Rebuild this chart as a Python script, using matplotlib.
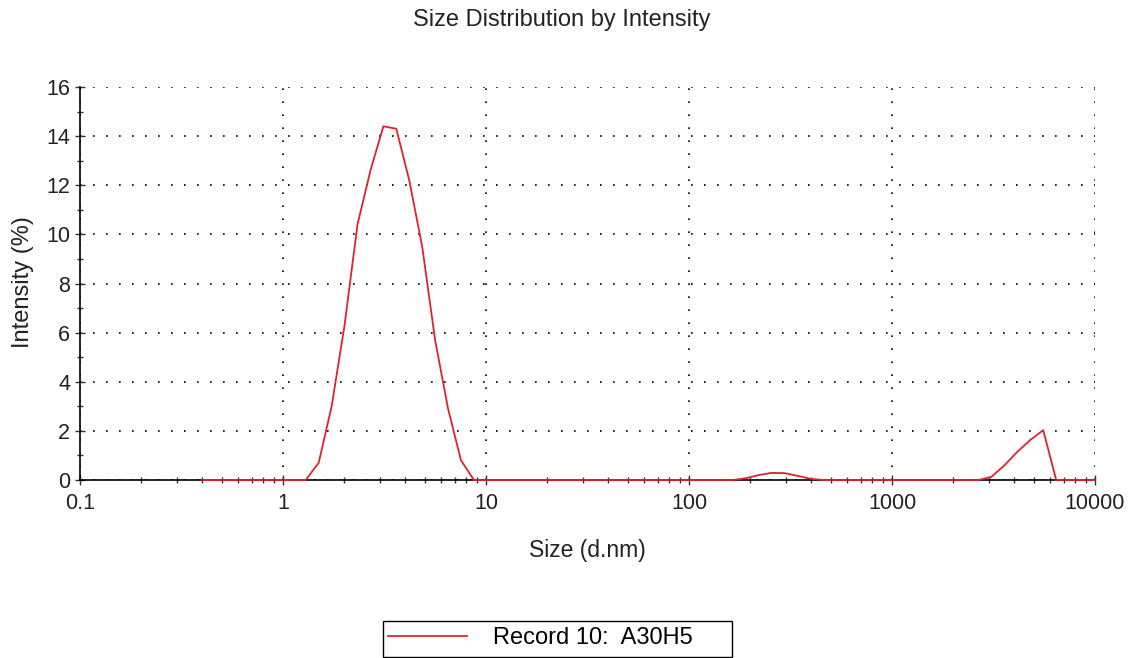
import numpy as np
import matplotlib.pyplot as plt
from matplotlib.patches import Rectangle
from matplotlib.ticker import FixedLocator, NullFormatter

plt.rcParams['font.family'] = ['Liberation Sans', 'DejaVu Sans']

# size bins (d.nm) and intensity (%)
size_nm = [0.4000, 0.4632, 0.5365, 0.6213, 0.7195, 0.8332, 0.9649, 1.117, 1.294, 1.499,
           1.736, 2.010, 2.328, 2.696, 3.122, 3.615, 4.187, 4.849, 5.615, 6.503,
           7.531, 8.721, 10.10, 11.70, 13.54, 15.69, 18.17, 21.04, 24.36, 28.21,
           32.67, 37.84, 43.82, 50.75, 58.77, 68.06, 78.82, 91.28, 105.7, 122.4,
           141.8, 164.2, 190.1, 220.2, 255.0, 295.3, 342.0, 396.1, 458.7, 531.2,
           615.1, 712.4, 825.0, 955.4, 1106, 1281, 1484, 1718, 1990, 2305,
           2669, 3091, 3580, 4145, 4801, 5560, 6439, 7456, 8635, 10000]
intensity = [0, 0, 0, 0, 0, 0, 0, 0, 0, 0.7,
             3.0, 6.3, 10.4, 12.6, 14.4, 14.3, 12.2, 9.5, 5.7, 2.9,
             0.8, 0, 0, 0, 0, 0, 0, 0, 0, 0,
             0, 0, 0, 0, 0, 0, 0, 0, 0, 0,
             0, 0, 0.07, 0.2, 0.29, 0.28, 0.17, 0.05, 0, 0,
             0, 0, 0, 0, 0, 0, 0, 0, 0, 0,
             0, 0.13, 0.6, 1.15, 1.63, 2.03, 0, 0, 0, 0]

x_ticks = [0.1, 1, 10, 100, 1000, 10000]
x_labels = ['0.1', '1', '10', '100', '1000', '10000']
y_ticks = [0, 2, 4, 6, 8, 10, 12, 14, 16]

W, H = 1128, 658
fig = plt.figure(figsize=(W / 100, H / 100), dpi=100)
ax = fig.add_axes([80/W, 1-480/H, (1095-80)/W, (480-87)/H])

ax.plot(size_nm, intensity, color='#e0232b', linewidth=1.3, label='Record 10:  A30H5', zorder=5, clip_on=False)

ax.set_xscale('log')
ax.set_xlim(0.1, 10000)
ax.set_ylim(0, 16)
ax.set_xticks(x_ticks)
ax.set_xticklabels(x_labels)
ax.xaxis.set_minor_locator(FixedLocator([m * 10.0**e for e in range(-1, 4) for m in range(2, 10)]))
ax.xaxis.set_minor_formatter(NullFormatter())
ax.set_yticks(y_ticks)
ax.yaxis.set_minor_locator(FixedLocator(list(range(1, 16, 2))))

ax.grid(True, which='major', color='black', linestyle=(0, (1, 6.8)), linewidth=1.2)
for side in ['top', 'right']:
    ax.spines[side].set_visible(False)
ax.spines['left'].set_linewidth(1.2)
ax.spines['bottom'].set_linewidth(1.2)
ax.spines['bottom'].set_zorder(4)

ax.tick_params(which='major', direction='inout', length=7, width=1, labelsize=15.5, color='#333333', labelcolor='#222222')
ax.tick_params(which='minor', direction='inout', length=5, width=1, color='#333333')
ax.tick_params(axis='x', which='major', pad=6)
ax.tick_params(axis='y', which='major', pad=3.5)

fig.text(562/W, 1-20/H, 'Size Distribution by Intensity', ha='center', va='center', fontsize=17, color='#222222')
fig.text(587/W, 1-550/H, 'Size (d.nm)', ha='center', va='center', fontsize=16.5, color='#222222')
fig.text(23/W, 1-282/H, 'Intensity (%)', ha='center', va='center', rotation=90, fontsize=17, color='#222222')

leg = fig.legend(loc='center left', bbox_to_anchor=(388/W, 1-638/H), fontsize=17,
                 handlelength=3.35, handletextpad=1.1, frameon=False,
                 borderpad=0, borderaxespad=0)
fig.patches.append(Rectangle((383/W, 1-657/H), (732-383)/W, 36/H, transform=fig.transFigure,
                             fill=False, edgecolor='black', linewidth=1.0))

fig.savefig('out.png', dpi=100)
